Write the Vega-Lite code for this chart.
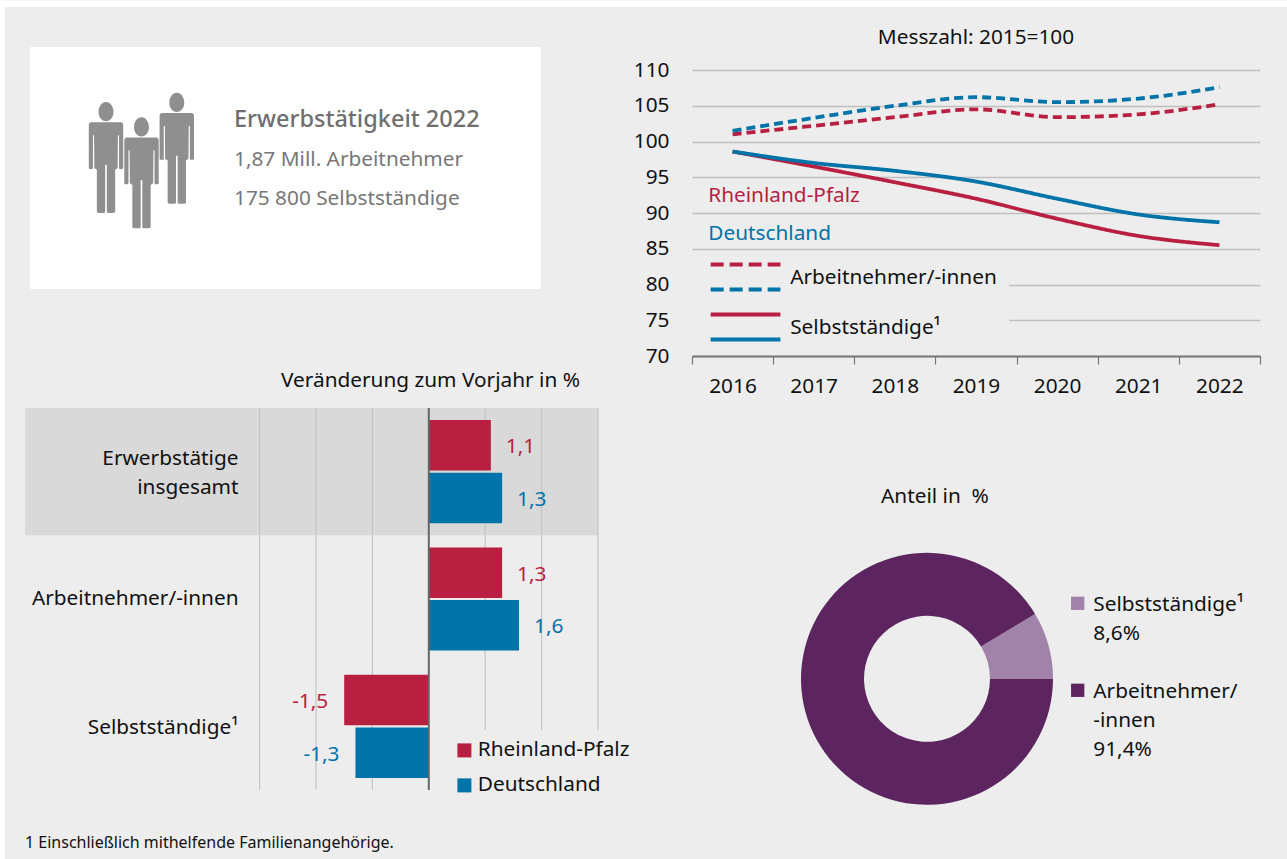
{
"$schema":"https://vega.github.io/schema/vega-lite/v6.json",
"background":"#ededed",
"padding":0,
"bounds":"flush",
"columns":2,
"align":"all",
"spacing":{"row":19,"column":94},
"resolve":{"scale":{"color":"independent"},"legend":{"color":"independent"}},
"config":{"font":"Noto Sans","view":{"stroke":null},"text":{"font":"Noto Sans"},"title":{"font":"Noto Sans","fontWeight":"normal"},"axis":{"labelFont":"Noto Sans","titleFont":"Noto Sans","titleFontWeight":"normal"},"legend":{"labelFont":"Noto Sans"}},
"concat":[
   {"width":593,"height":349,"layer":[
    {"data":{"values":[{"feld":"Rand oben"}]},"mark":{"type":"rect","color":"white","clip":false},"encoding":{"x":{"datum":-5,"type":"quantitative","scale":{"domain":[0,593],"clamp":false},"axis":null},"x2":{"datum":1282},"y":{"datum":-6.5,"type":"quantitative","scale":{"domain":[0,349],"reverse":true},"axis":null},"y2":{"datum":0}}},
    {"data":{"values":[{"feld":"Rand links"}]},"mark":{"type":"rect","color":"white","clip":false},"encoding":{"x":{"datum":-5,"type":"quantitative","scale":{"domain":[0,593]},"axis":null},"x2":{"datum":0},"y":{"datum":-6.5,"type":"quantitative","scale":{"domain":[0,349],"reverse":true},"axis":null},"y2":{"datum":852}}},
    {"data":{"values":[{"feld":"Karte"}]},"mark":{"type":"rect","color":"white"},"encoding":{"x":{"datum":25,"type":"quantitative","scale":{"domain":[0,593]},"axis":null},"x2":{"datum":536},"y":{"datum":40,"type":"quantitative","scale":{"domain":[0,349],"reverse":true},"axis":null},"y2":{"datum":282}}},
    {"data":{"values":[{"person":"A"}]},"mark":{"type":"point","filled":true,"opacity":1,"color":"#8f8f8f","size":12321,"shape":"M-.27 -.637L.27 -.637Q.31 -.637 .31 -.59L.31 .19Q.31 .206 .29 .206L.25 .206Q.235 .206 .235 .19L.235 -.4L.215 -.4L.21 .19L.165 .22L.165 .97Q.165 1 .13 1L.04 1Q.015 1 .015 .97L.015 .135L-.015 .135L-.015 .97Q-.015 1 -.04 1L-.13 1Q-.165 1 -.165 .97L-.165 .22L-.21 .19L-.215 -.4L-.235 -.4L-.235 .19Q-.235 .206 -.25 .206L-.29 .206Q-.31 .206 -.31 .19L-.31 -.59Q-.31 -.637 -.27 -.637ZM0 -1C.08 -1 .135 -.91 .135 -.82C.135 -.73 .08 -.655 0 -.655C-.08 -.655 -.135 -.73 -.135 -.82C-.135 -.91 -.08 -1 0 -1Z"},"encoding":{"x":{"datum":101,"type":"quantitative","scale":{"domain":[0,593]},"axis":null},"y":{"datum":150.5,"type":"quantitative","scale":{"domain":[0,349],"reverse":true},"axis":null}}},
    {"data":{"values":[{"person":"B"}]},"mark":{"type":"point","filled":true,"opacity":1,"color":"#8f8f8f","size":12321,"shape":"M-.27 -.637L.27 -.637Q.31 -.637 .31 -.59L.31 .19Q.31 .206 .29 .206L.25 .206Q.235 .206 .235 .19L.235 -.4L.215 -.4L.21 .19L.165 .22L.165 .97Q.165 1 .13 1L.04 1Q.015 1 .015 .97L.015 .135L-.015 .135L-.015 .97Q-.015 1 -.04 1L-.13 1Q-.165 1 -.165 .97L-.165 .22L-.21 .19L-.215 -.4L-.235 -.4L-.235 .19Q-.235 .206 -.25 .206L-.29 .206Q-.31 .206 -.31 .19L-.31 -.59Q-.31 -.637 -.27 -.637ZM0 -1C.08 -1 .135 -.91 .135 -.82C.135 -.73 .08 -.655 0 -.655C-.08 -.655 -.135 -.73 -.135 -.82C-.135 -.91 -.08 -1 0 -1Z"},"encoding":{"x":{"datum":136.5,"type":"quantitative","scale":{"domain":[0,593]},"axis":null},"y":{"datum":165.8,"type":"quantitative","scale":{"domain":[0,349],"reverse":true},"axis":null}}},
    {"data":{"values":[{"person":"C"}]},"mark":{"type":"point","filled":true,"opacity":1,"color":"#8f8f8f","size":12321,"shape":"M-.27 -.637L.27 -.637Q.31 -.637 .31 -.59L.31 .19Q.31 .206 .29 .206L.25 .206Q.235 .206 .235 .19L.235 -.4L.215 -.4L.21 .19L.165 .22L.165 .97Q.165 1 .13 1L.04 1Q.015 1 .015 .97L.015 .135L-.015 .135L-.015 .97Q-.015 1 -.04 1L-.13 1Q-.165 1 -.165 .97L-.165 .22L-.21 .19L-.215 -.4L-.235 -.4L-.235 .19Q-.235 .206 -.25 .206L-.29 .206Q-.31 .206 -.31 .19L-.31 -.59Q-.31 -.637 -.27 -.637ZM0 -1C.08 -1 .135 -.91 .135 -.82C.135 -.73 .08 -.655 0 -.655C-.08 -.655 -.135 -.73 -.135 -.82C-.135 -.91 -.08 -1 0 -1Z"},"encoding":{"x":{"datum":171.8,"type":"quantitative","scale":{"domain":[0,593]},"axis":null},"y":{"datum":141.3,"type":"quantitative","scale":{"domain":[0,349],"reverse":true},"axis":null}}},
    {"data":{"values":[{"t":"Erwerbstätigkeit 2022"}]},"mark":{"type":"text","align":"left","baseline":"middle","dy":2,"fontSize":23.5,"fontWeight":500,"color":"#6f6f6f"},"encoding":{"text":{"field":"t"},"x":{"datum":229,"type":"quantitative","scale":{"domain":[0,593]},"axis":null},"y":{"datum":111,"type":"quantitative","scale":{"domain":[0,349],"reverse":true},"axis":null}}},
    {"data":{"values":[{"t":"1,87 Mill. Arbeitnehmer"}]},"mark":{"type":"text","align":"left","baseline":"middle","dy":1,"fontSize":20.8,"color":"#777777"},"encoding":{"text":{"field":"t"},"x":{"datum":229,"type":"quantitative","scale":{"domain":[0,593]},"axis":null},"y":{"datum":152,"type":"quantitative","scale":{"domain":[0,349],"reverse":true},"axis":null}}},
    {"data":{"values":[{"t":"175 800 Selbstständige"}]},"mark":{"type":"text","align":"left","baseline":"middle","dy":1,"fontSize":20.8,"color":"#777777"},"encoding":{"text":{"field":"t"},"x":{"datum":229,"type":"quantitative","scale":{"domain":[0,593]},"axis":null},"y":{"datum":191,"type":"quantitative","scale":{"domain":[0,349],"reverse":true},"axis":null}}}
   ]},
   {"width":568,"height":349,
    "title":{"text":"Messzahl: 2015=100","orient":"top","anchor":"middle","frame":"group","offset":-42,"fontSize":20.8,"fontWeight":"normal","color":"#111111"},
    "layer":[
    {"data":{"values":[{"feld":"Legendenhintergrund"}]},"mark":{"type":"rect","color":"#ededed"},"encoding":{"x":{"datum":2015.5,"type":"quantitative","scale":{"domain":[2015.5,2022.5]}},"x2":{"datum":2019.407},"y":{"datum":70.5,"type":"quantitative","scale":{"domain":[70,110],"range":[349,63]}},"y2":{"datum":83}}},
    {"data":{"values":[
      {"jahr":2016,"gebiet":"Rheinland-Pfalz","gruppe":"Arbeitnehmer/-innen","wert":101.0},{"jahr":2017,"gebiet":"Rheinland-Pfalz","gruppe":"Arbeitnehmer/-innen","wert":102.2},{"jahr":2018,"gebiet":"Rheinland-Pfalz","gruppe":"Arbeitnehmer/-innen","wert":103.4},{"jahr":2019,"gebiet":"Rheinland-Pfalz","gruppe":"Arbeitnehmer/-innen","wert":104.5},{"jahr":2020,"gebiet":"Rheinland-Pfalz","gruppe":"Arbeitnehmer/-innen","wert":103.4},{"jahr":2021,"gebiet":"Rheinland-Pfalz","gruppe":"Arbeitnehmer/-innen","wert":103.8},{"jahr":2022,"gebiet":"Rheinland-Pfalz","gruppe":"Arbeitnehmer/-innen","wert":105.2},
      {"jahr":2016,"gebiet":"Deutschland","gruppe":"Arbeitnehmer/-innen","wert":101.5},{"jahr":2017,"gebiet":"Deutschland","gruppe":"Arbeitnehmer/-innen","wert":103.3},{"jahr":2018,"gebiet":"Deutschland","gruppe":"Arbeitnehmer/-innen","wert":105.0},{"jahr":2019,"gebiet":"Deutschland","gruppe":"Arbeitnehmer/-innen","wert":106.2},{"jahr":2020,"gebiet":"Deutschland","gruppe":"Arbeitnehmer/-innen","wert":105.5},{"jahr":2021,"gebiet":"Deutschland","gruppe":"Arbeitnehmer/-innen","wert":106.0},{"jahr":2022,"gebiet":"Deutschland","gruppe":"Arbeitnehmer/-innen","wert":107.6},
      {"jahr":2016,"gebiet":"Rheinland-Pfalz","gruppe":"Selbstständige¹","wert":98.6},{"jahr":2017,"gebiet":"Rheinland-Pfalz","gruppe":"Selbstständige¹","wert":96.5},{"jahr":2018,"gebiet":"Rheinland-Pfalz","gruppe":"Selbstständige¹","wert":94.3},{"jahr":2019,"gebiet":"Rheinland-Pfalz","gruppe":"Selbstständige¹","wert":92.0},{"jahr":2020,"gebiet":"Rheinland-Pfalz","gruppe":"Selbstständige¹","wert":89.2},{"jahr":2021,"gebiet":"Rheinland-Pfalz","gruppe":"Selbstständige¹","wert":86.8},{"jahr":2022,"gebiet":"Rheinland-Pfalz","gruppe":"Selbstständige¹","wert":85.5},
      {"jahr":2016,"gebiet":"Deutschland","gruppe":"Selbstständige¹","wert":98.6},{"jahr":2017,"gebiet":"Deutschland","gruppe":"Selbstständige¹","wert":97.0},{"jahr":2018,"gebiet":"Deutschland","gruppe":"Selbstständige¹","wert":95.9},{"jahr":2019,"gebiet":"Deutschland","gruppe":"Selbstständige¹","wert":94.4},{"jahr":2020,"gebiet":"Deutschland","gruppe":"Selbstständige¹","wert":92.0},{"jahr":2021,"gebiet":"Deutschland","gruppe":"Selbstständige¹","wert":89.8},{"jahr":2022,"gebiet":"Deutschland","gruppe":"Selbstständige¹","wert":88.7}]},
     "mark":{"type":"line","interpolate":"monotone","strokeWidth":3.8},
     "encoding":{
      "x":{"field":"jahr","type":"quantitative","scale":{"domain":[2015.5,2022.5]},
        "axis":{"title":null,"values":[2015.5,2016.5,2017.5,2018.5,2019.5,2020.5,2021.5,2022.5],"labelExpr":"datum.value < 2022 ? format(datum.value + 0.5, 'd') : ''","labelOffset":40.5,"labelFontSize":20.8,"labelColor":"#111111","labelPadding":12,"labelBound":false,"labelFlush":false,"labelOverlap":false,"grid":false,"tickColor":"#777777","tickSize":8,"tickWidth":1.2,"domainColor":"#777777","domainWidth":2}},
      "y":{"field":"wert","type":"quantitative","scale":{"domain":[70,110],"range":[349,63]},
        "axis":{"title":null,"values":[70,75,80,85,90,95,100,105,110],"ticks":false,"domain":false,"labelFontSize":20.8,"labelColor":"#111111","labelPadding":23,"labelBound":false,"grid":true,"gridColor":"#bfbfbf","gridWidth":1.3}},
      "color":{"field":"gebiet","type":"nominal","scale":{"domain":["Rheinland-Pfalz","Deutschland"],"range":["#b81f40","#0073a8"]},"legend":null},
      "strokeDash":{"field":"gruppe","type":"nominal","scale":{"domain":["Arbeitnehmer/-innen","Selbstständige¹"],"range":[[9,5],[1,0]]},"legend":null},
      "detail":{"field":"gruppe"}
     }},
    {"data":{"values":[{"g":"Rheinland-Pfalz"}]},"mark":{"type":"rule","strokeWidth":4,"strokeDash":[13,6]},"encoding":{"x":{"datum":2015.73,"type":"quantitative","scale":{"domain":[2015.5,2022.5]}},"x2":{"datum":2016.59},"y":{"datum":82.8,"type":"quantitative","scale":{"domain":[70,110],"range":[349,63]}},"color":{"field":"g","type":"nominal","scale":{"domain":["Rheinland-Pfalz","Deutschland"],"range":["#b81f40","#0073a8"]},"legend":null}}},
    {"data":{"values":[{"g":"Deutschland"}]},"mark":{"type":"rule","strokeWidth":4,"strokeDash":[13,6]},"encoding":{"x":{"datum":2015.73,"type":"quantitative","scale":{"domain":[2015.5,2022.5]}},"x2":{"datum":2016.59},"y":{"datum":79.3,"type":"quantitative","scale":{"domain":[70,110],"range":[349,63]}},"color":{"field":"g","type":"nominal","scale":{"domain":["Rheinland-Pfalz","Deutschland"],"range":["#b81f40","#0073a8"]},"legend":null}}},
    {"data":{"values":[{"g":"Rheinland-Pfalz"}]},"mark":{"type":"rule","strokeWidth":4},"encoding":{"x":{"datum":2015.73,"type":"quantitative","scale":{"domain":[2015.5,2022.5]}},"x2":{"datum":2016.59},"y":{"datum":75.8,"type":"quantitative","scale":{"domain":[70,110],"range":[349,63]}},"color":{"field":"g","type":"nominal","scale":{"domain":["Rheinland-Pfalz","Deutschland"],"range":["#b81f40","#0073a8"]},"legend":null}}},
    {"data":{"values":[{"g":"Deutschland"}]},"mark":{"type":"rule","strokeWidth":4},"encoding":{"x":{"datum":2015.73,"type":"quantitative","scale":{"domain":[2015.5,2022.5]}},"x2":{"datum":2016.59},"y":{"datum":72.3,"type":"quantitative","scale":{"domain":[70,110],"range":[349,63]}},"color":{"field":"g","type":"nominal","scale":{"domain":["Rheinland-Pfalz","Deutschland"],"range":["#b81f40","#0073a8"]},"legend":null}}},
    {"data":{"values":[{"t":"Rheinland-Pfalz"}]},"mark":{"type":"text","align":"left","baseline":"middle","dy":1,"fontSize":20.8,"color":"#b81f40"},"encoding":{"text":{"field":"t"},"x":{"datum":2015.7,"type":"quantitative","scale":{"domain":[2015.5,2022.5]}},"y":{"datum":92.46,"type":"quantitative","scale":{"domain":[70,110],"range":[349,63]}}}},
    {"data":{"values":[{"t":"Deutschland"}]},"mark":{"type":"text","align":"left","baseline":"middle","dy":1,"fontSize":20.8,"color":"#0073a8"},"encoding":{"text":{"field":"t"},"x":{"datum":2015.7,"type":"quantitative","scale":{"domain":[2015.5,2022.5]}},"y":{"datum":87.2,"type":"quantitative","scale":{"domain":[70,110],"range":[349,63]}}}},
    {"data":{"values":[{"t":"Arbeitnehmer/-innen"}]},"mark":{"type":"text","align":"left","baseline":"middle","dy":1,"fontSize":20.8,"color":"#111111"},"encoding":{"text":{"field":"t"},"x":{"datum":2016.71,"type":"quantitative","scale":{"domain":[2015.5,2022.5]}},"y":{"datum":81.0,"type":"quantitative","scale":{"domain":[70,110],"range":[349,63]}}}},
    {"data":{"values":[{"t":"Selbstständige¹"}]},"mark":{"type":"text","align":"left","baseline":"middle","dy":1,"fontSize":20.8,"color":"#111111"},"encoding":{"text":{"field":"t"},"x":{"datum":2016.71,"type":"quantitative","scale":{"domain":[2015.5,2022.5]}},"y":{"datum":74.0,"type":"quantitative","scale":{"domain":[70,110],"range":[349,63]}}}}
   ]},
   {"width":593,"height":382,
    "title":{"text":"1 Einschließlich mithelfende Familienangehörige.","orient":"bottom","anchor":"start","frame":"group","offset":29,"dx":20,"fontSize":16,"fontWeight":"normal","color":"#111111"},
    "layer":[
    {"data":{"values":[{"kategorie":"Erwerbstätige insgesamt"}]},"mark":{"type":"rect","color":"#d9d9d9"},"encoding":{"y":{"field":"kategorie","type":"nominal","scale":{"domain":["Erwerbstätige insgesamt","Arbeitnehmer/-innen","Selbstständige¹"],"paddingInner":0,"paddingOuter":0}},"x":{"datum":-7.16,"type":"quantitative","scale":{"domain":[-7.514,3]}},"x2":{"datum":3}}},
    {"data":{"values":[{"g":-3},{"g":-2},{"g":-1},{"g":1},{"g":2},{"g":3}]},"mark":{"type":"rule","color":"#c4c4c4","strokeWidth":1.2},"encoding":{"x":{"field":"g","type":"quantitative","scale":{"domain":[-7.514,3]}}}},
    {"data":{"name":"veraenderung","values":[
      {"kategorie":"Erwerbstätige insgesamt","gebiet":"Rheinland-Pfalz","wert":1.1,"label":"1,1"},
      {"kategorie":"Erwerbstätige insgesamt","gebiet":"Deutschland","wert":1.3,"label":"1,3"},
      {"kategorie":"Arbeitnehmer/-innen","gebiet":"Rheinland-Pfalz","wert":1.3,"label":"1,3"},
      {"kategorie":"Arbeitnehmer/-innen","gebiet":"Deutschland","wert":1.6,"label":"1,6"},
      {"kategorie":"Selbstständige¹","gebiet":"Rheinland-Pfalz","wert":-1.5,"label":"-1,5"},
      {"kategorie":"Selbstständige¹","gebiet":"Deutschland","wert":-1.3,"label":"-1,3"}]},
     "mark":{"type":"bar"},
     "encoding":{
      "x":{"field":"wert","type":"quantitative","scale":{"domain":[-7.514,3]},
        "axis":{"orient":"top","title":"Veränderung zum Vorjahr in %","titleFontSize":20.8,"titleColor":"#111111","titleX":425,"titleY":-28,"titleBaseline":"middle","titleAlign":"center","labels":false,"ticks":false,"domain":false,"grid":false}},
      "y":{"field":"kategorie","type":"nominal","scale":{"domain":["Erwerbstätige insgesamt","Arbeitnehmer/-innen","Selbstständige¹"],"paddingInner":0,"paddingOuter":0},
        "axis":{"title":null,"orient":"left","offset":-233,"ticks":false,"domain":false,"grid":false,"labelPadding":0,"labelFontSize":20.8,"labelColor":"#111111","labelLineHeight":29,"labelLimit":300,"zindex":1,"labelOffset":{"condition":[{"test":"datum.value == 'Erwerbstätige insgesamt'","value":-12.5},{"test":"datum.value == 'Selbstständige¹'","value":2}],"value":0},"labelExpr":"datum.value == 'Erwerbstätige insgesamt' ? ['Erwerbstätige','insgesamt'] : datum.label"}},
      "yOffset":{"field":"gebiet","scale":{"domain":["Rheinland-Pfalz","Deutschland"],"paddingInner":0.04,"paddingOuter":0.23}},
      "color":{"field":"gebiet","type":"nominal","scale":{"domain":["Rheinland-Pfalz","Deutschland"],"range":["#b81f40","#0073a8"]},
        "legend":{"title":null,"orient":"none","legendX":439,"legendY":322,"padding":10,"fillColor":"#ededed","symbolType":"square","symbolSize":196,"symbolOpacity":1,"labelFontSize":20.8,"labelColor":"#111111","labelOffset":3,"rowPadding":13,"labelLimit":300}}
     }},
    {"data":{"name":"veraenderung"},"transform":[{"filter":"datum.wert > 0"}],"mark":{"type":"text","align":"left","baseline":"middle","dx":15,"dy":2,"fontSize":20.8},
     "encoding":{"x":{"field":"wert","type":"quantitative","scale":{"domain":[-7.514,3]}},"y":{"field":"kategorie","type":"nominal","scale":{"domain":["Erwerbstätige insgesamt","Arbeitnehmer/-innen","Selbstständige¹"],"paddingInner":0,"paddingOuter":0}},"yOffset":{"field":"gebiet","scale":{"domain":["Rheinland-Pfalz","Deutschland"],"paddingInner":0.04,"paddingOuter":0.23}},"text":{"field":"label"},"color":{"field":"gebiet","type":"nominal","scale":{"domain":["Rheinland-Pfalz","Deutschland"],"range":["#b81f40","#0073a8"]}}}},
    {"data":{"name":"veraenderung"},"transform":[{"filter":"datum.wert < 0"}],"mark":{"type":"text","align":"right","baseline":"middle","dx":-16,"dy":2,"fontSize":20.8},
     "encoding":{"x":{"field":"wert","type":"quantitative","scale":{"domain":[-7.514,3]}},"y":{"field":"kategorie","type":"nominal","scale":{"domain":["Erwerbstätige insgesamt","Arbeitnehmer/-innen","Selbstständige¹"],"paddingInner":0,"paddingOuter":0}},"yOffset":{"field":"gebiet","scale":{"domain":["Rheinland-Pfalz","Deutschland"],"paddingInner":0.04,"paddingOuter":0.23}},"text":{"field":"label"},"color":{"field":"gebiet","type":"nominal","scale":{"domain":["Rheinland-Pfalz","Deutschland"],"range":["#b81f40","#0073a8"]}}}},
    {"data":{"values":[{"g":0}]},"mark":{"type":"rule","color":"#666666","strokeWidth":2},"encoding":{"x":{"field":"g","type":"quantitative","scale":{"domain":[-7.514,3]}}}}
   ]},
   {"width":568,"height":382,
    "title":{"text":"Anteil in\u00a0 %","orient":"top","anchor":"start","frame":"group","offset":-100,"dx":189,"fontSize":20.8,"fontWeight":"normal","color":"#111111"},
    "data":{"values":[
      {"teil":"Selbstständige¹","anteil":8.6,"text":"Selbstständige¹\n8,6%"},
      {"teil":"Arbeitnehmer/-innen","anteil":91.4,"text":"Arbeitnehmer/\n-innen\n91,4%"}]},
    "layer":[
     {"mark":{"type":"arc","radius":126,"radius2":63},
      "encoding":{"x":{"datum":235,"type":"quantitative","scale":{"domain":[0,568]},"axis":null},
       "y":{"datum":270.8,"type":"quantitative","scale":{"domain":[0,382],"reverse":true},"axis":null},
       "theta":{"field":"anteil","type":"quantitative","stack":true,"scale":{"domain":[0,100],"range":[1.5708,7.854]}},
       "order":{"field":"anteil","type":"quantitative","sort":"descending"},
       "color":{"field":"teil","type":"nominal","scale":{"domain":["Selbstständige¹","Arbeitnehmer/-innen"],"range":["#a183a9","#5c2560"]},"legend":null}}},
     {"transform":[{"filter":"datum.anteil < 50"}],"mark":{"type":"point","shape":"square","filled":true,"opacity":1,"size":177},
      "encoding":{"x":{"datum":385.7,"type":"quantitative","scale":{"domain":[0,568]},"axis":null},
       "y":{"datum":195.3,"type":"quantitative","scale":{"domain":[0,382],"reverse":true},"axis":null},
       "color":{"field":"teil","type":"nominal","scale":{"domain":["Selbstständige¹","Arbeitnehmer/-innen"],"range":["#a183a9","#5c2560"]},"legend":null}}},
     {"transform":[{"filter":"datum.anteil > 50"}],"mark":{"type":"point","shape":"square","filled":true,"opacity":1,"size":177},
      "encoding":{"x":{"datum":385.7,"type":"quantitative","scale":{"domain":[0,568]},"axis":null},
       "y":{"datum":282.3,"type":"quantitative","scale":{"domain":[0,382],"reverse":true},"axis":null},
       "color":{"field":"teil","type":"nominal","scale":{"domain":["Selbstständige¹","Arbeitnehmer/-innen"],"range":["#a183a9","#5c2560"]},"legend":null}}},
     {"transform":[{"filter":"datum.anteil < 50"}],"mark":{"type":"text","align":"left","baseline":"top","dy":-8,"fontSize":20.8,"color":"#111111","lineBreak":"\n","lineHeight":28.7},
      "encoding":{"x":{"datum":401.3,"type":"quantitative","scale":{"domain":[0,568]},"axis":null},
       "y":{"datum":195.3,"type":"quantitative","scale":{"domain":[0,382],"reverse":true},"axis":null},
       "text":{"field":"text"}}},
     {"transform":[{"filter":"datum.anteil > 50"}],"mark":{"type":"text","align":"left","baseline":"top","dy":-8,"fontSize":20.8,"color":"#111111","lineBreak":"\n","lineHeight":28.7},
      "encoding":{"x":{"datum":401.3,"type":"quantitative","scale":{"domain":[0,568]},"axis":null},
       "y":{"datum":282.3,"type":"quantitative","scale":{"domain":[0,382],"reverse":true},"axis":null},
       "text":{"field":"text"}}}
    ]}
]
}
